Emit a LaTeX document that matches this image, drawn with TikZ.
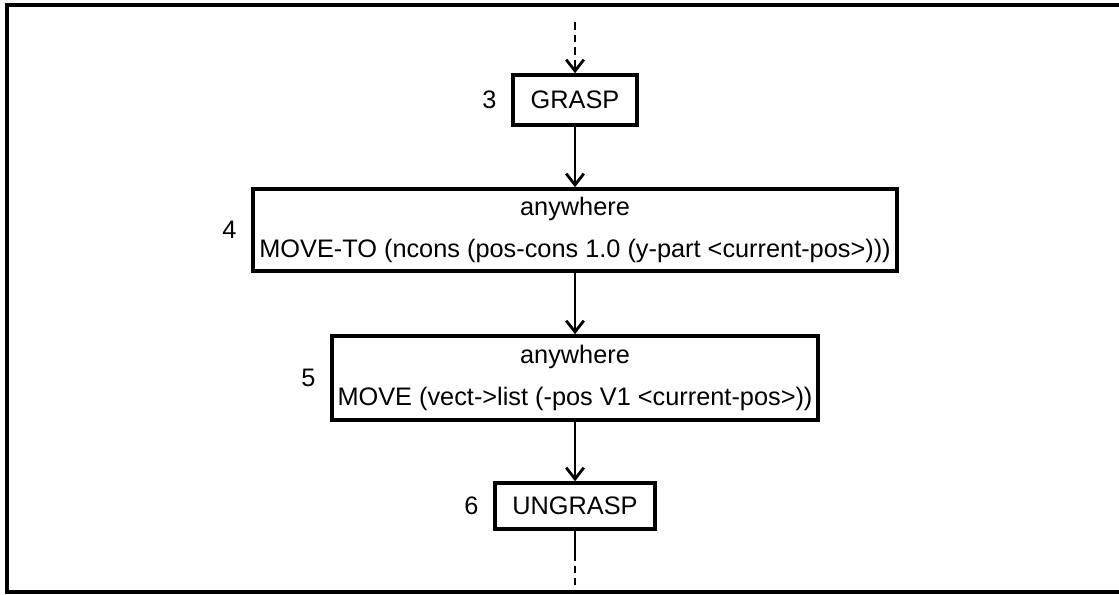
\documentclass[tikz,border=0pt]{standalone}
\usepackage{fontspec}
\setmainfont{Liberation Sans}
\usetikzlibrary{positioning,arrows.meta}
\newcommand{\stepfont}{\fontsize{7.2}{12}\selectfont}
\tikzset{
    stepbox/.style={draw, line width=1pt, inner sep=0pt, align=center, font=\stepfont},
    steplbl/.style={inner sep=0pt, font=\stepfont},
    flow/.style={line width=0.8pt, -{Straight Barb[length=3.2pt,width=5pt]}},
    flowdash/.style={line width=0.8pt, dash pattern=on 2.2pt off 1.4pt},
}
\begin{document}
\begin{tikzpicture}[x=0.01cm, y=-0.01cm]
        \useasboundingbox (0,0) rectangle (1119,595);
        % marco
        \draw[line width=0.9pt] (1119,5) -- (7,5) -- (7,592) -- (1119,592);
        % pasos
        \node[stepbox, minimum width=1.24cm, minimum height=0.50cm] (grasp) at (575,100) {GRASP};
        \node[stepbox, minimum width=6.44cm, minimum height=0.82cm] (moveto) at (575,230)
            {anywhere\\MOVE-TO (ncons (pos-cons 1.0 (y-part <current-pos>)))};
        \node[stepbox, minimum width=4.86cm, minimum height=0.84cm] (move) at (575,378)
            {anywhere\\MOVE (vect->list (-pos V1 <current-pos>))};
        \node[stepbox, minimum width=1.60cm, minimum height=0.46cm] (ungrasp) at (575,506) {UNGRASP};
        % numeros
        \node[steplbl, left=0.14cm of grasp] (n3) {3};
        \node[steplbl, left=0.14cm of moveto] (n4) {4};
        \node[steplbl, left=0.14cm of move] (n5) {5};
        \node[steplbl, left=0.14cm of ungrasp] (n6) {6};
        % flechas
        \coordinate (in) at (575,22);
        \coordinate (inmid) at (575,62);
        \coordinate (outmid) at (575,553);
        \coordinate (out) at (575,585);
        \draw[flowdash] (in) -- (inmid);
        \draw[flow] (inmid) -- (grasp);
        \draw[flow] (grasp) -- (moveto);
        \draw[flow] (moveto) -- (move);
        \draw[flow] (move) -- (ungrasp);
        \draw[line width=0.8pt] (ungrasp) -- (outmid);
        \draw[flowdash] (outmid) -- (out);
    \end{tikzpicture}
\end{document}
